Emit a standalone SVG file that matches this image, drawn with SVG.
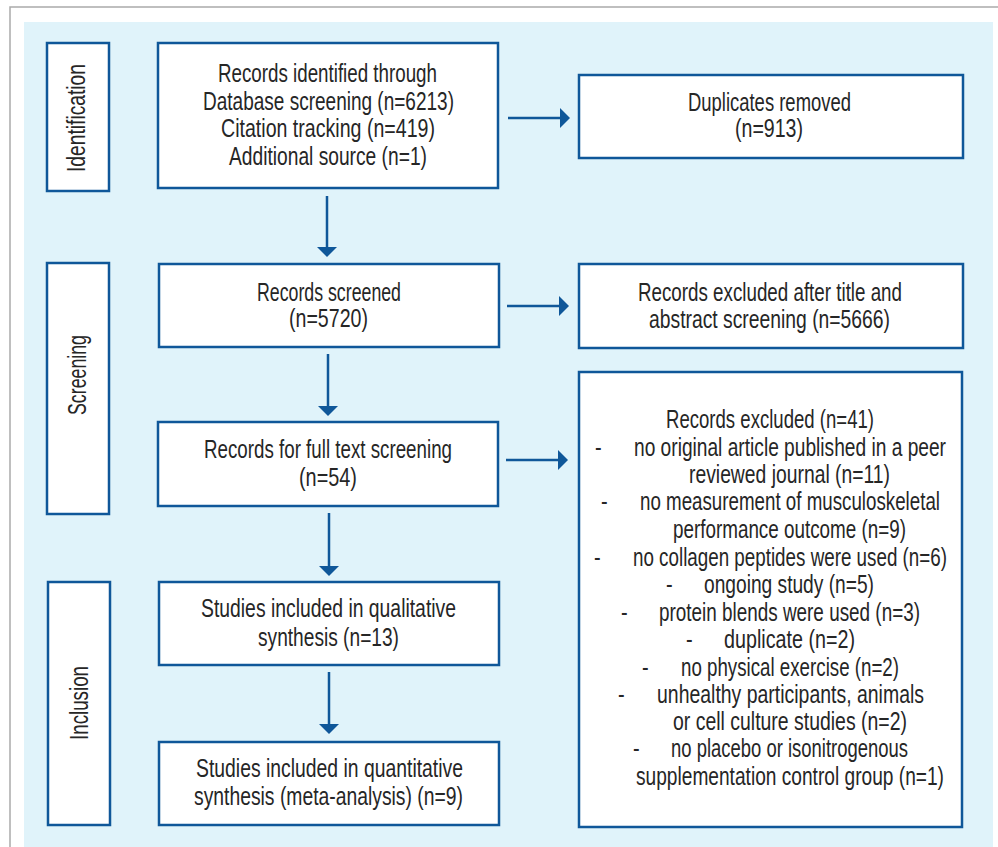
<svg xmlns="http://www.w3.org/2000/svg" width="998" height="847" viewBox="0 0 998 847">
<defs>
<style>
.box{fill:#ffffff;stroke:#0f5799;stroke-width:2.5}
.t{font-family:"Liberation Sans Narrow","Liberation Sans",Arial,sans-serif;font-size:25px;fill:#262626}
.c{stroke:#0f5799;stroke-width:2.5;fill:none}
</style>
<marker id="ah" markerUnits="userSpaceOnUse" markerWidth="10" markerHeight="20" refX="0" refY="10" orient="auto" viewBox="0 0 10 20">
<path d="M0,0 L10,10 L0,20 Z" fill="#0f5799"/>
</marker>
</defs>
<rect x="0" y="0" width="998" height="847" fill="#ffffff"/>
<path d="M10,847 V7 H998" fill="none" stroke="#aaaaaa" stroke-width="1.5"/>
<rect x="24" y="22" width="969" height="825" fill="#e0f3fa"/>

<g id="stage-identification">
<rect class="box" x="47" y="43" width="62" height="148"/>
<text class="t" transform="translate(85,172) rotate(-90) scale(0.8,1)" textLength="135" lengthAdjust="spacingAndGlyphs">Identification</text>
</g>
<g id="stage-screening">
<rect class="box" x="47" y="263" width="62" height="251"/>
<text class="t" transform="translate(86,415) rotate(-90) scale(0.8,1)" textLength="100" lengthAdjust="spacingAndGlyphs">Screening</text>
</g>
<g id="stage-inclusion">
<rect class="box" x="48" y="582" width="62" height="243"/>
<text class="t" transform="translate(88,740) rotate(-90) scale(0.8,1)" textLength="92.5" lengthAdjust="spacingAndGlyphs">Inclusion</text>
</g>

<g id="records-identified">
<rect class="box" x="158" y="43" width="340" height="145"/>
<g transform="scale(0.8,1)">
<text class="t" x="272.5" y="82" textLength="273.75" lengthAdjust="spacingAndGlyphs">Records identified through</text>
<text class="t" x="253.75" y="110" textLength="313.75" lengthAdjust="spacingAndGlyphs">Database screening (n=6213)</text>
<text class="t" x="276.25" y="137" textLength="267.5" lengthAdjust="spacingAndGlyphs">Citation tracking (n=419)</text>
<text class="t" x="286.25" y="165" textLength="247.5" lengthAdjust="spacingAndGlyphs">Additional source (n=1)</text>
</g>
</g>
<g id="duplicates-removed">
<rect class="box" x="579" y="75" width="384" height="83"/>
<g transform="scale(0.8,1)">
<text class="t" x="860" y="111" textLength="203.75" lengthAdjust="spacingAndGlyphs">Duplicates removed</text>
<text class="t" x="918.75" y="137" textLength="85" lengthAdjust="spacingAndGlyphs">(n=913)</text>
</g>
</g>
<g id="records-screened">
<rect class="box" x="159" y="264" width="340" height="83"/>
<g transform="scale(0.8,1)">
<text class="t" x="321.25" y="301" textLength="180" lengthAdjust="spacingAndGlyphs">Records screened</text>
<text class="t" x="361.25" y="327" textLength="98.75" lengthAdjust="spacingAndGlyphs">(n=5720)</text>
</g>
</g>
<g id="records-excluded-title">
<rect class="box" x="579" y="264" width="384" height="84"/>
<g transform="scale(0.8,1)">
<text class="t" x="797.5" y="301" textLength="330" lengthAdjust="spacingAndGlyphs">Records excluded after title and</text>
<text class="t" x="811.25" y="328" textLength="301.25" lengthAdjust="spacingAndGlyphs">abstract screening (n=5666)</text>
</g>
</g>
<g id="records-fulltext">
<rect class="box" x="158" y="422" width="340" height="84"/>
<g transform="scale(0.8,1)">
<text class="t" x="255" y="458" textLength="310" lengthAdjust="spacingAndGlyphs">Records for full text screening</text>
<text class="t" x="373.75" y="486" textLength="72.5" lengthAdjust="spacingAndGlyphs">(n=54)</text>
</g>
</g>
<g id="records-excluded-fulltext">
<rect class="box" x="579" y="372" width="383" height="455"/>
<g transform="scale(0.8,1)">
<text class="t" x="832.5" y="428" textLength="260" lengthAdjust="spacingAndGlyphs">Records excluded (n=41)</text>
<text class="t" x="743.75" y="456">-</text>
<text class="t" x="792.5" y="456" textLength="390" lengthAdjust="spacingAndGlyphs">no original article published in a peer</text>
<text class="t" x="861.25" y="483" textLength="251.25" lengthAdjust="spacingAndGlyphs">reviewed journal (n=11)</text>
<text class="t" x="751.25" y="510">-</text>
<text class="t" x="800" y="510" textLength="375" lengthAdjust="spacingAndGlyphs">no measurement of musculoskeletal</text>
<text class="t" x="841.25" y="538" textLength="291.25" lengthAdjust="spacingAndGlyphs">performance outcome (n=9)</text>
<text class="t" x="742.5" y="566">-</text>
<text class="t" x="791.25" y="566" textLength="392.5" lengthAdjust="spacingAndGlyphs">no collagen peptides were used (n=6)</text>
<text class="t" x="832.5" y="593">-</text>
<text class="t" x="880" y="593" textLength="212.5" lengthAdjust="spacingAndGlyphs">ongoing study (n=5)</text>
<text class="t" x="776.25" y="621">-</text>
<text class="t" x="823.75" y="621" textLength="326.25" lengthAdjust="spacingAndGlyphs">protein blends were used (n=3)</text>
<text class="t" x="857.5" y="648">-</text>
<text class="t" x="905" y="648" textLength="163.75" lengthAdjust="spacingAndGlyphs">duplicate (n=2)</text>
<text class="t" x="802.5" y="676">-</text>
<text class="t" x="851.25" y="676" textLength="272.5" lengthAdjust="spacingAndGlyphs">no physical exercise (n=2)</text>
<text class="t" x="772.5" y="703">-</text>
<text class="t" x="821.25" y="703" textLength="333.75" lengthAdjust="spacingAndGlyphs">unhealthy participants, animals</text>
<text class="t" x="841.25" y="730" textLength="292.5" lengthAdjust="spacingAndGlyphs">or cell culture studies (n=2)</text>
<text class="t" x="791.25" y="757">-</text>
<text class="t" x="838.75" y="757" textLength="296.25" lengthAdjust="spacingAndGlyphs">no placebo or isonitrogenous</text>
<text class="t" x="795" y="785" textLength="385" lengthAdjust="spacingAndGlyphs">supplementation control group (n=1)</text>
</g>
</g>
<g id="studies-qualitative">
<rect class="box" x="159" y="582" width="340" height="83"/>
<g transform="scale(0.8,1)">
<text class="t" x="251.25" y="617" textLength="318.75" lengthAdjust="spacingAndGlyphs">Studies included in qualitative</text>
<text class="t" x="322.5" y="646" textLength="176.25" lengthAdjust="spacingAndGlyphs">synthesis (n=13)</text>
</g>
</g>
<g id="studies-quantitative">
<rect class="box" x="159" y="742" width="340" height="83"/>
<g transform="scale(0.8,1)">
<text class="t" x="245" y="777" textLength="333.75" lengthAdjust="spacingAndGlyphs">Studies included in quantitative</text>
<text class="t" x="242.5" y="805" textLength="336.25" lengthAdjust="spacingAndGlyphs">synthesis (meta-analysis) (n=9)</text>
</g>
</g>

<g id="connectors">
<line class="c" x1="508" y1="118" x2="560" y2="118" marker-end="url(#ah)"/>
<line class="c" x1="507" y1="306" x2="559" y2="306" marker-end="url(#ah)"/>
<line class="c" x1="506" y1="460" x2="558" y2="460" marker-end="url(#ah)"/>
<line class="c" x1="327" y1="196" x2="327" y2="247" marker-end="url(#ah)"/>
<line class="c" x1="328" y1="354" x2="328" y2="406" marker-end="url(#ah)"/>
<line class="c" x1="329" y1="513" x2="329" y2="566" marker-end="url(#ah)"/>
<line class="c" x1="329" y1="672" x2="329" y2="724" marker-end="url(#ah)"/>
</g>
</svg>
